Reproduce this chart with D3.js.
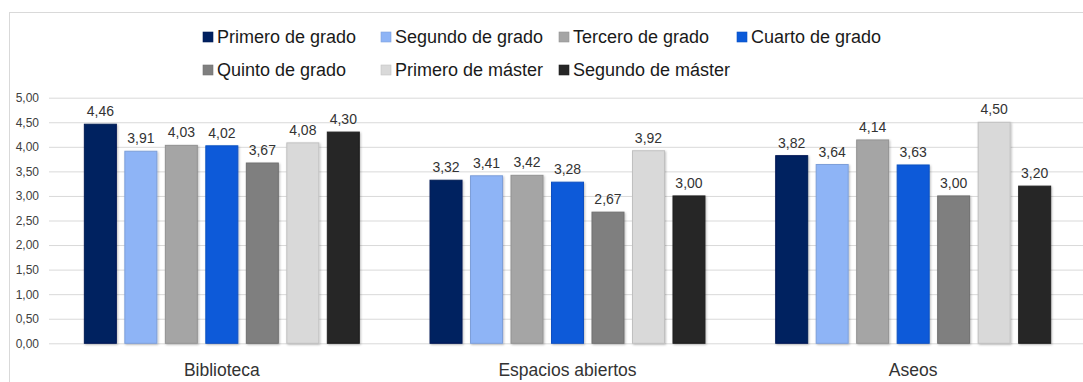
<!DOCTYPE html>
<html>
<head>
<meta charset="utf-8">
<script src="https://cdn.jsdelivr.net/npm/d3@7"></script>
<style>
  html, body { margin: 0; padding: 0; background: #fff; }
  svg { display: block; font-family: "Liberation Sans", Arial, sans-serif; }
</style>
</head>
<body>
<svg id="chart" width="1083" height="382"></svg>
<script>
// Categories (spaces evaluated) and student groups
const categories = ["Biblioteca", "Espacios abiertos", "Aseos"];
const seriesNames = [
  "Primero de grado", "Segundo de grado", "Tercero de grado", "Cuarto de grado",
  "Quinto de grado", "Primero de máster", "Segundo de máster"
];
const seriesColors = ["#002060", "#8eb4f6", "#a5a5a5", "#0b5ad9", "#7f7f7f", "#d9d9d9", "#262626"];

// Mean scores, one array per group, ordered as the categories
const primeroGrado  = [4.46, 3.32, 3.82];
const segundoGrado  = [3.91, 3.41, 3.64];
const terceroGrado  = [4.03, 3.42, 4.14];
const cuartoGrado   = [4.02, 3.28, 3.63];
const quintoGrado   = [3.67, 2.67, 3.00];
const primeroMaster = [4.08, 3.92, 4.50];
const segundoMaster = [4.30, 3.00, 3.20];
const seriesValues = [primeroGrado, segundoGrado, terceroGrado, cuartoGrado,
                      quintoGrado, primeroMaster, segundoMaster];

const yTicks = [0, 0.5, 1, 1.5, 2, 2.5, 3, 3.5, 4, 4.5, 5];

const fmt = v => v.toFixed(2).replace(".", ",");

const svg = d3.select("#chart");

// Chart frame
svg.append("rect")
  .attr("x", 9.5).attr("y", 12.5)
  .attr("width", 1200).attr("height", 500)
  .attr("fill", "none").attr("stroke", "#d9d9d9");

const plot = { left: 49, right: 1086, top: 97.7, bottom: 343.3 };

const y = d3.scaleLinear().domain([0, 5]).range([plot.bottom, plot.top]);
const x0 = d3.scaleBand().domain(categories)
  .range([plot.left, plot.right]).paddingInner(0.2046).paddingOuter(0.1023);
const x1 = d3.scaleBand().domain(seriesNames)
  .range([0, x0.bandwidth()]).paddingInner(0.21).paddingOuter(0);
const color = d3.scaleOrdinal().domain(seriesNames).range(seriesColors);

// Gridlines and value axis
const yAxis = d3.axisLeft(y).tickValues(yTicks).tickFormat(fmt)
  .tickSize(-(plot.right - plot.left)).tickPadding(10);
const gy = svg.append("g").attr("transform", `translate(${plot.left},0)`).call(yAxis);
gy.select(".domain").remove();
gy.selectAll(".tick line").attr("stroke", "#d9d9d9").attr("stroke-width", 1);
gy.selectAll(".tick text")
  .attr("fill", "#404040").style("font-size", "12px")
  .style("font-family", "Liberation Sans, Arial, sans-serif");

// Soft shadow under the bars
const defs = svg.append("defs");
const f = defs.append("filter").attr("id", "shadow")
  .attr("x", "-20%").attr("y", "-20%").attr("width", "140%").attr("height", "140%");
f.append("feDropShadow").attr("dx", 1).attr("dy", 1).attr("stdDeviation", 1)
  .attr("flood-color", "#000").attr("flood-opacity", 0.25);

// Bars
const rows = [];
categories.forEach((c, ci) => {
  seriesNames.forEach((s, si) => rows.push({ cat: c, series: s, value: seriesValues[si][ci] }));
});

const bars = svg.append("g");
bars.selectAll("rect").data(rows).join("rect")
  .attr("x", d => x0(d.cat) + x1(d.series))
  .attr("y", d => y(d.value))
  .attr("width", x1.bandwidth())
  .attr("height", d => y(0) - y(d.value))
  .attr("fill", d => color(d.series))
  .attr("stroke", d => d3.color(color(d.series)).darker(0.35))
  .attr("stroke-width", 1)
  .attr("filter", "url(#shadow)");

// Value labels
svg.append("g").selectAll("text").data(rows).join("text")
  .attr("x", d => x0(d.cat) + x1(d.series) + x1.bandwidth() / 2)
  .attr("y", d => y(d.value) - 8)
  .attr("text-anchor", "middle")
  .attr("fill", "#333")
  .style("font-size", "14px")
  .text(d => fmt(d.value));

// Category labels
svg.append("g").selectAll("text").data(categories).join("text")
  .attr("x", d => x0(d) + x0.bandwidth() / 2)
  .attr("y", 376)
  .attr("text-anchor", "middle")
  .attr("fill", "#333")
  .style("font-size", "17.5px")
  .text(d => d);

// Legend: four columns, two rows
const legendCols = [203, 381, 559, 737];
const legendRows = [37, 70];
const lg = svg.append("g").selectAll("g").data(seriesNames).join("g")
  .attr("transform", (d, i) => `translate(${legendCols[i % 4]},${legendRows[Math.floor(i / 4)]})`);
lg.append("rect")
  .attr("x", 0).attr("y", -5).attr("width", 10).attr("height", 10)
  .attr("fill", d => color(d))
  .attr("stroke", d => d3.color(color(d)).darker(0.3)).attr("stroke-width", 0.6);
lg.append("text")
  .attr("x", 14).attr("y", 0).attr("dy", "0.36em")
  .attr("fill", "#1a1a1a")
  .style("font-size", "18px")
  .text(d => d);
</script>
</body>
</html>
